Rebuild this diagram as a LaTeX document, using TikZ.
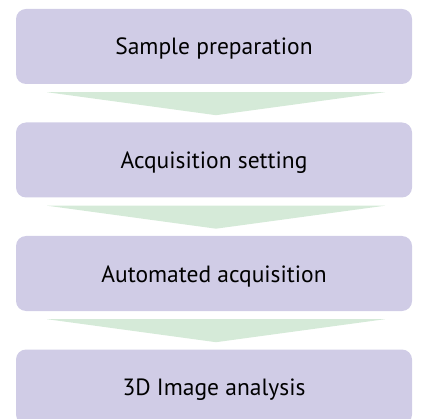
\documentclass[tikz,border=0pt]{standalone}
\usepackage{fontspec}
\setmainfont{PT Sans}
\usetikzlibrary{calc}
\definecolor{boxfill}{RGB}{208,204,230}
\definecolor{arrowfill}{RGB}{213,234,216}
\tikzset{
  stepbox/.style={rectangle, rounded corners=10pt, fill=boxfill, draw=none,
    minimum width=396pt, minimum height=75pt, inner sep=0pt,
    font=\fontsize{23.5}{28}\selectfont, text height=17pt, text depth=0pt},
  flowarrow/.style={fill=arrowfill, draw=none}
}
\begin{document}
\begin{tikzpicture}[x=1pt,y=-1pt]
\useasboundingbox (0,0) rectangle (422,419);
\clip (0,0) rectangle (422,419);
\node[stepbox] (b1) at (214,46.5) {Sample preparation};
\node[stepbox] (b2) at (214,160) {Acquisition setting};
\node[stepbox] (b3) at (214,273.5) {Automated acquisition};
\node[stepbox] (b4) at (214,387) {3D Image analysis};
\foreach \a/\b in {b1/b2,b2/b3,b3/b4}{
  \fill[flowarrow] ($(\a.south)+(-167,8)$) -- ($(\a.south)+(171,8)$) -- ($(\a.south)+(2,31)$) -- cycle;
}
\end{tikzpicture}
\end{document}
